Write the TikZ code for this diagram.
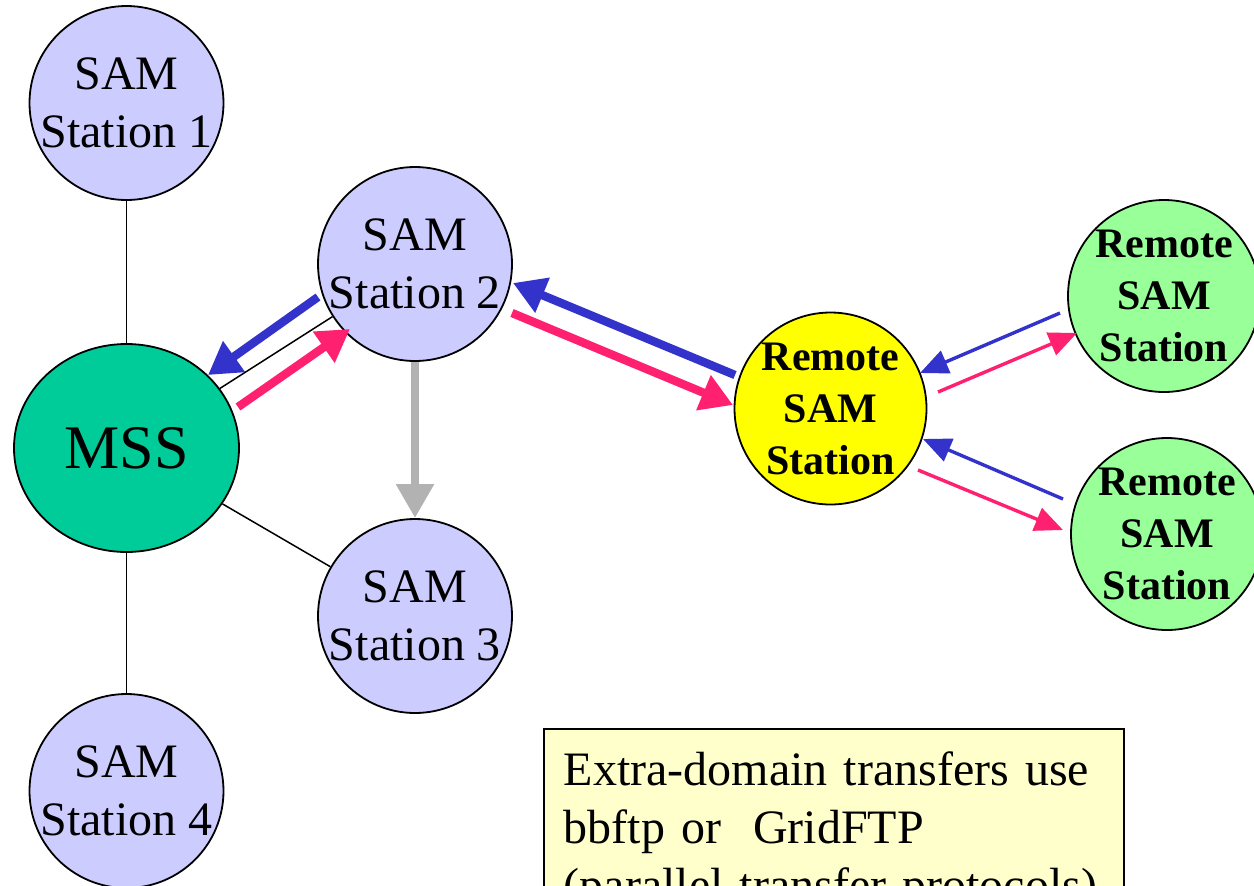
\documentclass[tikz,border=0pt]{standalone}
\usepackage{fontspec}
\setmainfont{Liberation Serif}
\usetikzlibrary{arrows.meta,shapes.geometric}

\definecolor{samfill}{HTML}{CCCCFF}
\definecolor{mssfill}{HTML}{00CC99}
\definecolor{remotefill}{HTML}{FFFF00}
\definecolor{farfill}{HTML}{99FF99}
\definecolor{notefill}{HTML}{FFFFCC}
\definecolor{getblue}{HTML}{3333CC}
\definecolor{putpink}{HTML}{FF2070}
\definecolor{localgray}{HTML}{B2B2B2}

\tikzset{
  station/.style={circle, draw=black, line width=0.9pt, inner sep=0pt,
    minimum size=96pt, align=center, fill=samfill,
    font=\fontsize{24}{29}\selectfont},
  remote/.style={station, font=\fontsize{21}{26}\selectfont\bfseries},
  link/.style={draw=black, line width=0.75pt},
  bigget/.style={draw=getblue, line width=4.2pt,
    -{Triangle[length=16pt,width=18pt]}},
  bigput/.style={draw=putpink, line width=4.2pt,
    -{Triangle[length=16pt,width=18pt]}},
  smallget/.style={draw=getblue, line width=1.7pt,
    -{Triangle[length=14pt,width=12pt]}},
  smallput/.style={draw=putpink, line width=1.7pt,
    -{Triangle[length=14pt,width=12pt]}},
  copyarrow/.style={draw=localgray, line width=4.2pt,
    -{Triangle[length=17pt,width=18pt]}},
}

\begin{document}
\begin{tikzpicture}[x=0.5pt, y=-0.5pt]
\useasboundingbox (0,0) rectangle (1254,885);

% local stations around the mass storage system
\node[station] (st1) at (126.5,103) {SAM\\Station 1};
\node[station] (st2) at (415,264) {SAM\\Station 2};
\node[station] (st3) at (415,616) {SAM\\Station 3};
\node[station] (st4) at (126.5,791) {SAM\\Station 4};
\node[ellipse, draw=black, line width=0.9pt, fill=mssfill, inner sep=0pt,
  minimum width=112.5pt, minimum height=104pt,
  font=\fontsize{31}{36}\selectfont] (mss) at (126.5,448) {MSS};

% remote stations
\node[remote, fill=remotefill] (rem) at (830.5,408.5) {Remote\\SAM\\Station};
\node[remote, fill=farfill] (far1) at (1164,296) {Remote\\SAM\\Station};
\node[remote, fill=farfill] (far2) at (1167,534) {Remote\\SAM\\Station};

% plain links
\draw[link] (st1) -- (mss);
\draw[link] (mss) -- (st4);
\draw[link] (mss) -- (st2);
\draw[link] (mss) -- (st3);

% station 2 <-> MSS transfers
\coordinate (g1s) at (318,297);
\coordinate (g1e) at (208,375);
\coordinate (p1s) at (238,407);
\coordinate (p1e) at (350,329);
\draw[bigget] (g1s) -- (g1e);
\draw[bigput] (p1s) -- (p1e);

% station 2 <-> remote station transfers
\coordinate (g2s) at (735,375);
\coordinate (g2e) at (513,283);
\coordinate (p2s) at (512,313);
\coordinate (p2e) at (733,405);
\draw[bigget] (g2s) -- (g2e);
\draw[bigput] (p2s) -- (p2e);

% station 2 -> station 3
\draw[copyarrow] (st2) -- (st3);

% remote station <-> far stations
\coordinate (g3s) at (1060,313);
\coordinate (g3e) at (920,373);
\coordinate (p3s) at (938,392);
\coordinate (p3e) at (1077,333);
\coordinate (g4s) at (1063,499);
\coordinate (g4e) at (923,439);
\coordinate (p4s) at (918,470);
\coordinate (p4e) at (1063,530);
\draw[smallget] (g3s) -- (g3e);
\draw[smallput] (p3s) -- (p3e);
\draw[smallget] (g4s) -- (g4e);
\draw[smallput] (p4s) -- (p4e);

% note (its last line runs past the lower edge)
\node[draw=black, line width=0.9pt, fill=notefill, anchor=north west,
  inner xsep=10pt, inner ysep=11.5pt, text width=270pt, align=left,
  font=\fontsize{24}{29}\selectfont] (note) at (543,728)
  {Extra-domain transfers use\\bbftp or\ \ GridFTP\\(parallel transfer protocols)};
\end{tikzpicture}
\end{document}
